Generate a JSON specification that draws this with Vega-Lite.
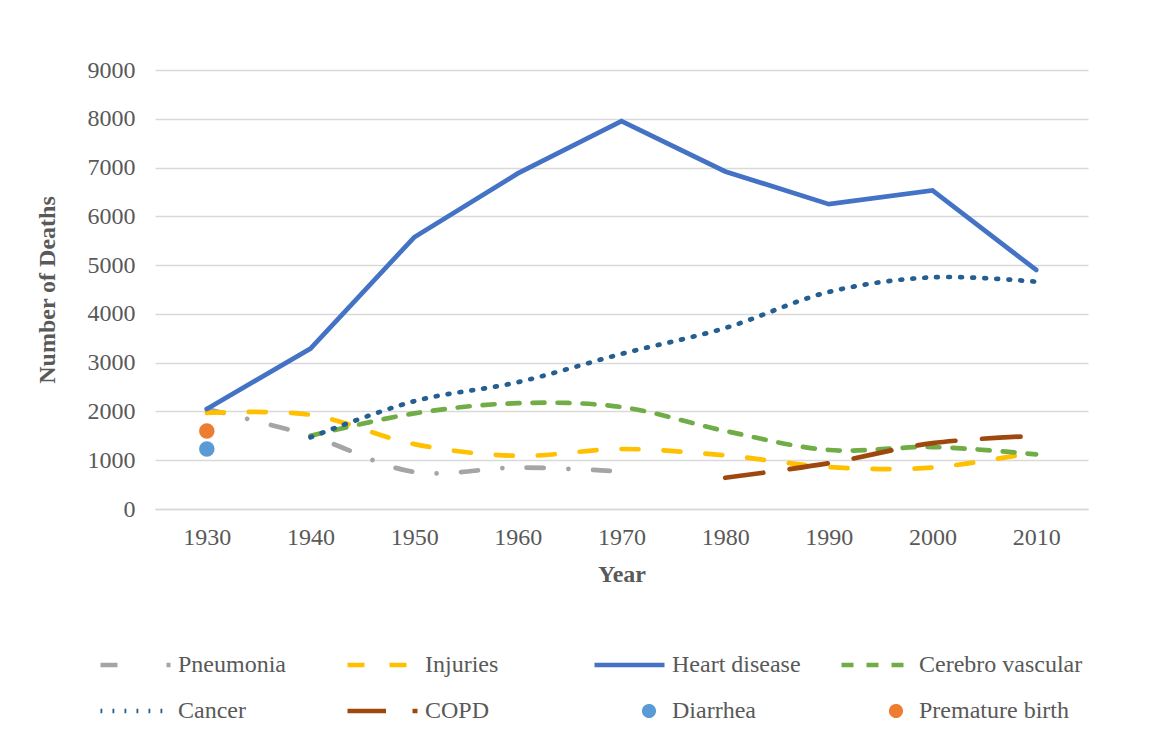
{
  "$schema": "https://vega.github.io/schema/vega-lite/v6.json",
  "autosize": {"type": "none"},
  "padding": {"left": 155, "top": 70, "right": 75, "bottom": 227},
  "width": 933,
  "height": 439,
  "background": "white",
  "config": {
    "view": {"stroke": null},
    "font": "Liberation Serif",
    "legend": {
      "orient": "none",
      "direction": "horizontal",
      "legendX": -57,
      "legendY": 585,
      "columns": 4,
      "gridAlign": "all",
      "padding": 0,
      "labelFont": "Liberation Serif",
      "labelFontSize": 24,
      "labelColor": "#595959",
      "labelOffset": 5,
      "labelLimit": 300,
      "symbolSize": 4900,
      "symbolStrokeWidth": 4.7,
      "symbolOpacity": 1,
      "clipHeight": 20,
      "rowPadding": 22,
      "columnPadding": 3
    }
  },
  "data": {
    "values": [
      {"year": "1930", "cause": "Pneumonia", "deaths": 2050},
      {"year": "1940", "cause": "Pneumonia", "deaths": 1500},
      {"year": "1950", "cause": "Pneumonia", "deaths": 760},
      {"year": "1960", "cause": "Pneumonia", "deaths": 850},
      {"year": "1970", "cause": "Pneumonia", "deaths": 770},
      {"year": "1930", "cause": "Injuries", "deaths": 1970},
      {"year": "1940", "cause": "Injuries", "deaths": 1930},
      {"year": "1950", "cause": "Injuries", "deaths": 1330},
      {"year": "1960", "cause": "Injuries", "deaths": 1090},
      {"year": "1970", "cause": "Injuries", "deaths": 1230},
      {"year": "1980", "cause": "Injuries", "deaths": 1100},
      {"year": "1990", "cause": "Injuries", "deaths": 860},
      {"year": "2000", "cause": "Injuries", "deaths": 850},
      {"year": "2010", "cause": "Injuries", "deaths": 1170},
      {"year": "1930", "cause": "Heart disease", "deaths": 2050},
      {"year": "1940", "cause": "Heart disease", "deaths": 3290},
      {"year": "1950", "cause": "Heart disease", "deaths": 5570},
      {"year": "1960", "cause": "Heart disease", "deaths": 6880},
      {"year": "1970", "cause": "Heart disease", "deaths": 7950},
      {"year": "1980", "cause": "Heart disease", "deaths": 6920},
      {"year": "1990", "cause": "Heart disease", "deaths": 6250},
      {"year": "2000", "cause": "Heart disease", "deaths": 6530},
      {"year": "2010", "cause": "Heart disease", "deaths": 4900},
      {"year": "1940", "cause": "Cerebro vascular", "deaths": 1500},
      {"year": "1950", "cause": "Cerebro vascular", "deaths": 1960},
      {"year": "1960", "cause": "Cerebro vascular", "deaths": 2170},
      {"year": "1970", "cause": "Cerebro vascular", "deaths": 2090},
      {"year": "1980", "cause": "Cerebro vascular", "deaths": 1600},
      {"year": "1990", "cause": "Cerebro vascular", "deaths": 1210},
      {"year": "2000", "cause": "Cerebro vascular", "deaths": 1270},
      {"year": "2010", "cause": "Cerebro vascular", "deaths": 1120},
      {"year": "1940", "cause": "Cancer", "deaths": 1470},
      {"year": "1950", "cause": "Cancer", "deaths": 2210},
      {"year": "1960", "cause": "Cancer", "deaths": 2600},
      {"year": "1970", "cause": "Cancer", "deaths": 3180},
      {"year": "1980", "cause": "Cancer", "deaths": 3710},
      {"year": "1990", "cause": "Cancer", "deaths": 4450},
      {"year": "2000", "cause": "Cancer", "deaths": 4750},
      {"year": "2010", "cause": "Cancer", "deaths": 4660},
      {"year": "1980", "cause": "COPD", "deaths": 640},
      {"year": "1990", "cause": "COPD", "deaths": 940},
      {"year": "2000", "cause": "COPD", "deaths": 1350},
      {"year": "2010", "cause": "COPD", "deaths": 1500},
      {"year": "1930", "cause": "Diarrhea", "deaths": 1230},
      {"year": "1930", "cause": "Premature birth", "deaths": 1600}
    ]
  },
  "encoding": {
    "x": {
      "field": "year",
      "type": "ordinal",
      "scale": {"domain": ["1930", "1940", "1950", "1960", "1970", "1980", "1990", "2000", "2010"], "padding": 0.5},
      "title": "Year",
      "axis": {
        "labelAngle": 0,
        "labelFont": "Liberation Serif",
        "labelFontSize": 24,
        "labelColor": "#595959",
        "labelPadding": 16,
        "ticks": false,
        "tickSize": 0,
        "domain": true,
        "domainColor": "#D9D9D9",
        "domainWidth": 1.5,
        "grid": false,
        "titleFont": "Liberation Serif",
        "titleFontSize": 24,
        "titleFontWeight": "bold",
        "titleColor": "#595959",
        "titlePadding": 13
      }
    },
    "y": {
      "field": "deaths",
      "type": "quantitative",
      "scale": {"domain": [0, 9000], "nice": false},
      "title": "Number of Deaths",
      "axis": {
        "values": [0, 1000, 2000, 3000, 4000, 5000, 6000, 7000, 8000, 9000],
        "format": "d",
        "labelFont": "Liberation Serif",
        "labelFontSize": 24,
        "labelColor": "#595959",
        "labelPadding": 20,
        "ticks": false,
        "tickSize": 0,
        "domain": false,
        "grid": true,
        "gridColor": "#D9D9D9",
        "gridWidth": 1.5,
        "titleFont": "Liberation Serif",
        "titleFontSize": 24,
        "titleFontWeight": "bold",
        "titleColor": "#595959",
        "titlePadding": 28
      }
    },
    "color": {
      "field": "cause",
      "type": "nominal",
      "title": null,
      "scale": {
        "domain": ["Pneumonia", "Injuries", "Heart disease", "Cerebro vascular", "Cancer", "COPD", "Diarrhea", "Premature birth"],
        "range": ["#A5A5A5", "#FFC000", "#4472C4", "#70AD47", "#255E91", "#9E480E", "#5B9BD5", "#ED7D31"]
      }
    }
  },
  "layer": [
    {
      "transform": [{"filter": {"field": "cause", "oneOf": ["Pneumonia", "Injuries", "Cerebro vascular", "Cancer", "COPD"]}}],
      "mark": {"type": "line", "interpolate": "catmull-rom", "strokeWidth": 4.7, "strokeCap": "round", "strokeJoin": "round"},
      "encoding": {
        "strokeDash": {
          "field": "cause",
          "type": "nominal",
          "title": null,
          "scale": {
            "domain": ["Pneumonia", "Injuries", "Heart disease", "Cerebro vascular", "Cancer", "COPD", "Diarrhea", "Premature birth"],
            "range": [[17, 24.5, 0.01, 24.5], [17, 25], [1, 0], [12, 13], [1.8, 10.2], [38.5, 26.5], [1, 0], [1, 0]]
          }
        }
      }
    },
    {
      "transform": [{"filter": {"field": "cause", "equal": "Heart disease"}}],
      "mark": {"type": "line", "strokeWidth": 4.7, "strokeCap": "round", "strokeJoin": "miter"},
      "encoding": {}
    },
    {
      "transform": [{"filter": {"field": "cause", "oneOf": ["Diarrhea", "Premature birth"]}}],
      "mark": {"type": "point", "filled": true, "opacity": 1, "size": 240, "shape": "circle"},
      "encoding": {}
    },
    {
      "transform": [{"filter": {"field": "cause", "equal": "__none__"}}],
      "mark": {"type": "point", "filled": false, "opacity": 1},
      "encoding": {
        "shape": {
          "field": "cause",
          "type": "nominal",
          "title": null,
          "scale": {
            "domain": ["Pneumonia", "Injuries", "Heart disease", "Cerebro vascular", "Cancer", "COPD", "Diarrhea", "Premature birth"],
            "range": ["stroke", "stroke", "stroke", "stroke", "stroke", "stroke",
              "M0.49,0A0.067,0.067 0 1,1 0.624,0A0.067,0.067 0 1,1 0.49,0ZM0.423,0A0.134,0.134 0 1,1 0.691,0A0.134,0.134 0 1,1 0.423,0Z",
              "M0.49,0A0.067,0.067 0 1,1 0.624,0A0.067,0.067 0 1,1 0.49,0ZM0.423,0A0.134,0.134 0 1,1 0.691,0A0.134,0.134 0 1,1 0.423,0Z"]
          }
        }
      }
    }
  ]
}
